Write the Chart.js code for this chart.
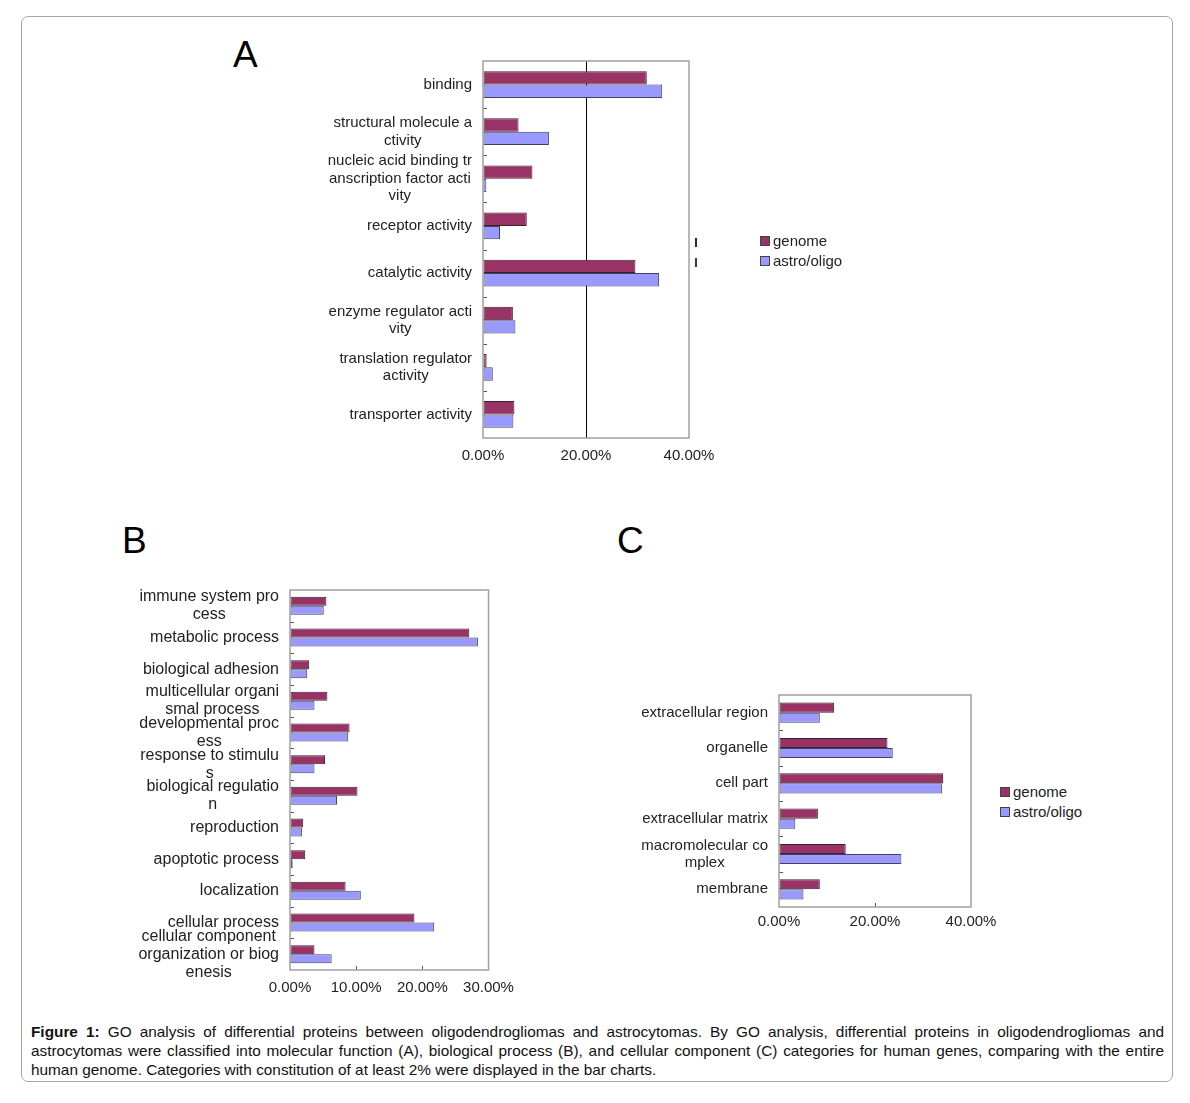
<!DOCTYPE html>
<html>
<head>
<meta charset="utf-8">
<script src="https://cdn.jsdelivr.net/npm/chart.js@4.4.1/dist/chart.umd.min.js"></script>
<style>
  html, body { margin: 0; padding: 0; background: #fff; }
  body { width: 1190px; height: 1103px; position: relative; overflow: hidden;
         font-family: "Liberation Sans", Arial, sans-serif; color: #222; }
  #frame { position: absolute; left: 21px; top: 16px; width: 1152px; height: 1066px;
           border: 1.5px solid #a6a6a6; border-radius: 7px; box-sizing: border-box; }
  .cv { position: absolute; }
  .letter { position: absolute; font-size: 37px; line-height: 37px; color: #000; }
  .legend { position: absolute; font-size: 15px; line-height: 20px; color: #222; }
  .legend .item { position: relative; height: 20px; white-space: nowrap; }
  .legend .sw { display: inline-block; width: 8px; height: 8px; border: 1px solid #444;
                vertical-align: 0px; margin-right: 3px; }
  .tickmark { position: absolute; width: 1.5px; height: 9px; }
  #caption { position: absolute; left: 31px; top: 1022px; width: 1133px; font-size: 15.35px;
             line-height: 19px; color: #111; }
  #caption .ln { text-align: justify; text-align-last: justify; white-space: nowrap; }
  #caption .ln.last { text-align-last: left; }
</style>
</head>
<body>
<div id="frame"></div>

<div class="letter" style="left:233px; top:36px;">A</div>
<div class="letter" style="left:122px; top:522px;">B</div>
<div class="letter" style="left:617px; top:522px;">C</div>

<canvas id="chartA" class="cv" style="left:300px; top:40px;" width="450" height="440"></canvas>
<canvas id="chartB" class="cv" style="left:100px; top:575px;" width="430" height="430"></canvas>
<canvas id="chartC" class="cv" style="left:600px; top:680px;" width="400" height="260"></canvas>

<div class="tickmark" style="left:695px; top:238px; background:#4a2038;"></div>
<div class="tickmark" style="left:695px; top:258px; background:#383860;"></div>

<div class="legend" style="left:760px; top:231px;">
  <div class="item"><span class="sw" style="background:#993366"></span>genome</div>
  <div class="item"><span class="sw" style="background:#9999FF"></span>astro/oligo</div>
</div>
<div class="legend" style="left:1000px; top:782px;">
  <div class="item"><span class="sw" style="background:#993366"></span>genome</div>
  <div class="item"><span class="sw" style="background:#9999FF"></span>astro/oligo</div>
</div>

<div id="caption">
  <div class="ln"><b>Figure 1:</b> GO analysis of differential proteins between oligodendrogliomas and astrocytomas. By GO analysis, differential proteins in oligodendrogliomas and</div>
  <div class="ln">astrocytomas were classified into molecular function (A), biological process (B), and cellular component (C) categories for human genes, comparing with the entire</div>
  <div class="ln last">human genome. Categories with constitution of at least 2% were displayed in the bar charts.</div>
</div>

<script>
// ---------------- DATA ----------------
const seriesNames = ["genome", "astro/oligo"];

// A: molecular function
const categoriesA = [
  ["binding"],
  ["structural molecule a", "ctivity"],
  ["nucleic acid binding tr", "anscription factor acti", "vity"],
  ["receptor activity"],
  ["catalytic activity"],
  ["enzyme regulator acti", "vity"],
  ["translation regulator", "activity"],
  ["transporter activity"]
];
const genomeA = [31.8, 6.9, 9.6, 8.5, 29.6, 5.8, 0.7, 6.1];
const astroA  = [34.8, 12.8, 0.65, 3.3, 34.2, 6.3, 1.9, 5.9];
const ticksA  = [0, 20, 40];

// B: biological process
const categoriesB = [
  ["immune system pro", "cess"],
  ["metabolic process"],
  ["biological adhesion"],
  ["multicellular organi", "smal process"],
  ["developmental proc", "ess"],
  ["response to stimulu", "s"],
  ["biological regulatio", "n"],
  ["reproduction"],
  ["apoptotic process"],
  ["localization"],
  ["cellular process"],
  ["cellular component", "organization or biog", "enesis"]
];
const genomeB = [5.5, 27.1, 2.9, 5.65, 9.0, 5.3, 10.2, 2.0, 2.3, 8.4, 18.8, 3.7];
const astroB  = [5.1, 28.4, 2.6, 3.7, 8.8, 3.7, 7.1, 1.8, 0.4, 10.7, 21.8, 6.3];
const ticksB  = [0, 10, 20, 30];

// C: cellular component
const categoriesC = [
  ["extracellular region"],
  ["organelle"],
  ["cell part"],
  ["extracellular matrix"],
  ["macromolecular co", "mplex"],
  ["membrane"]
];
const genomeC = [11.5, 22.6, 34.2, 8.1, 13.9, 8.5];
const astroC  = [8.5, 23.7, 34.0, 3.4, 25.5, 5.1];
const ticksC  = [0, 20, 40];

// ---------------- STYLE ----------------
const FONT = '"Liberation Sans", Arial, sans-serif';
const COL_GENOME = '#993366';
const COL_ASTRO = '#9999FF';

const decorPlugin = {
  id: 'decor',
  afterDatasetsDraw(chart, args, opts) {
    const { ctx, chartArea: a, scales } = chart;
    const y = scales.y, x = scales.x;
    const n = chart.data.labels.length;
    ctx.save();
    ctx.strokeStyle = '#555';
    ctx.lineWidth = 1;
    ctx.beginPath();
    for (let i = 1; i < n; i++) {
      const p = Math.round((y.getPixelForValue(i - 1) + y.getPixelForValue(i)) / 2) + 0.5;
      ctx.moveTo(a.left, p); ctx.lineTo(a.left + 4, p);
    }
    (opts.innerTicks || []).forEach(v => {
      const px = Math.round(x.getPixelForValue(v)) + 0.5;
      ctx.moveTo(px, a.bottom); ctx.lineTo(px, a.bottom - 4);
    });
    ctx.stroke();
    ctx.strokeStyle = '#a0a0a0';
    ctx.lineWidth = 1.5;
    ctx.strokeRect(a.left, a.top, a.width, a.height);
    ctx.fillStyle = '#222';
    ctx.font = opts.fontSize + 'px ' + FONT;
    ctx.textBaseline = 'middle';
    ctx.textAlign = 'center';
    const lh = opts.lineHeight;
    chart.data.labels.forEach((lines, i) => {
      const cy = y.getPixelForValue(i);
      const w = Math.max(...lines.map(s => ctx.measureText(s).width));
      const cx = a.left - 11 - w / 2;
      const y0 = cy - (lines.length - 1) * lh / 2;
      lines.forEach((s, k) => ctx.fillText(s, cx, y0 + k * lh));
    });
    ctx.restore();
  }
};

function makeChart(id, labels, g, s, tickVals, cfg) {
  const maxV = tickVals[tickVals.length - 1];
  const step = tickVals[1] - tickVals[0];
  return new Chart(document.getElementById(id), {
    type: 'bar',
    data: {
      labels: labels,
      datasets: [
        { label: seriesNames[0], data: g, backgroundColor: COL_GENOME, borderColor: '#3a2030', borderWidth: 1, borderSkipped: false },
        { label: seriesNames[1], data: s, backgroundColor: COL_ASTRO, borderColor: '#404060', borderWidth: 1, borderSkipped: false }
      ]
    },
    plugins: [decorPlugin],
    options: {
      indexAxis: 'y',
      responsive: false,
      animation: false,
      devicePixelRatio: 1,
      layout: { padding: cfg.padding },
      categoryPercentage: 0.57,
      barPercentage: 1.0,
      plugins: {
        legend: { display: false },
        tooltip: { enabled: false },
        decor: { innerTicks: cfg.innerTicks, fontSize: cfg.labelSize, lineHeight: cfg.lineHeight }
      },
      scales: {
        x: {
          min: 0, max: maxV,
          border: { display: false },
          grid: {
            drawTicks: false,
            color: ctx => (cfg.gridAt !== undefined && ctx.tick && ctx.tick.value === cfg.gridAt) ? '#000' : 'rgba(0,0,0,0)',
            lineWidth: 1
          },
          ticks: {
            stepSize: step,
            padding: cfg.tickPad,
            color: '#222',
            font: { family: FONT, size: 15 },
            maxRotation: 0,
            callback: v => v.toFixed(2) + '%'
          },
          afterFit: sc => { sc.height = cfg.xHeight; sc.paddingLeft = 0; sc.paddingRight = 0; }
        },
        y: {
          border: { display: false },
          grid: { display: false, drawTicks: false },
          ticks: { display: false, autoSkip: false },
          afterFit: sc => { sc.width = cfg.yWidth; sc.paddingTop = 0; sc.paddingBottom = 0; }
        }
      }
    }
  });
}

makeChart('chartA', categoriesA, genomeA, astroA, ticksA, {
  padding: { left: 0, top: 21, right: 61, bottom: 0 },
  yWidth: 183, xHeight: 42, tickPad: 9, gridAt: 20, innerTicks: [],
  labelSize: 15, lineHeight: 17.5
});
makeChart('chartB', categoriesB, genomeB, astroB, ticksB, {
  padding: { left: 0, top: 15, right: 41.5, bottom: 0 },
  yWidth: 190, xHeight: 35, tickPad: 9, gridAt: undefined, innerTicks: [10, 20],
  labelSize: 16, lineHeight: 18
});
makeChart('chartC', categoriesC, genomeC, astroC, ticksC, {
  padding: { left: 0, top: 15, right: 29, bottom: 0 },
  yWidth: 179, xHeight: 33, tickPad: 6, gridAt: undefined, innerTicks: [20],
  labelSize: 15, lineHeight: 17
});
</script>
</body>
</html>
